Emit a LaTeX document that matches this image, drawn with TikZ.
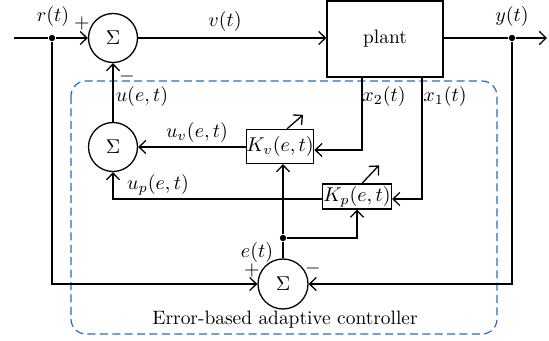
\documentclass[tikz,border=0pt]{standalone}
\usetikzlibrary{arrows.meta,calc}
\definecolor{dashblue}{RGB}{30,110,195}
\begin{document}
\begin{tikzpicture}[x=0.5pt,y=-0.5pt,
  line width=0.65pt,
  every node/.style={font=\fontsize{9.7}{11}\selectfont},
  arr/.style={-{Straight Barb[length=3.4pt,width=6.6pt]}},
  sumnode/.style={draw,circle,minimum size=24.5pt,inner sep=0pt},
  gainbox/.style={draw,rectangle,inner sep=0pt},
  dotnode/.style={circle,fill,inner sep=0pt,minimum size=3.2pt},
  smalldot/.style={circle,fill,inner sep=0pt,minimum size=1.8pt},
  lbl/.style={inner sep=0pt}
]
\useasboundingbox (0,0) rectangle (549,341);

% dashed controller box
\draw[dashblue,dash pattern=on 4pt off 2.2pt,rounded corners=7.5pt,line width=0.6pt]
  (71,81) rectangle (497,334);
\node[lbl] (ctrl) at (285,320) {Error-based adaptive controller};

% main nodes
\node[sumnode] (s1) at (113,38) {$\Sigma$};
\node[draw,rectangle,minimum width=58pt,minimum height=38pt,inner sep=0pt] (plant) at (385,39) {plant};
\node[sumnode] (s2) at (113,147) {$\Sigma$};
\node[gainbox,minimum width=33pt,minimum height=17pt] (kv) at (280,146.5) {$K_v(e,t)$};
\node[gainbox,minimum width=34.5pt,minimum height=12.5pt] (kp) at (357,196.5) {$K_p(e,t)$};
\node[sumnode,minimum size=25pt] (s3) at (283,284) {$\Sigma$};

% coordinates
\coordinate (in) at (14,38);
\node[dotnode] (rdot) at (52,38) {};
\node[dotnode] (ydot) at (512,38) {};
\coordinate (out) at (547,38);
\node[dotnode] (edot) at (283,238) {};
\node[smalldot] (cross) at (283,199) {};
\coordinate (x2c) at (362,150);
\coordinate (x1c) at (422,199);
\coordinate (upc) at (113,199);

% top path
\draw (in) -- (rdot);
\draw[arr] (rdot) -- (s1.west);
\draw[arr] (s1.east) -- (plant.west |- s1.east);
\draw (plant.east |- ydot) -- (ydot);
\draw[arr] (ydot) -- (out);

% feedback to error summer
\draw[arr] (rdot) |- (s3.west);
\draw[arr] (ydot) |- (s3.east);

% error distribution
\draw (s3.north) -- (edot);
\draw[arr] (edot) -- (edot |- kv.south);
\draw[arr] (edot) -| (kp.south);

% state feedback
\draw[arr] (plant.south -| x2c) -- (x2c) -- (x2c -| kv.east);
\draw[arr] (plant.south -| x1c) -- (x1c) -- (x1c -| kp.east);

% controller outputs
\draw[arr] (kv.west |- s2.east) -- (s2.east);
\draw[arr] (kp.west |- upc) -- (upc) -- (s2.south);
\draw[arr] (s2.north) -- (s1.south);

% adaptation arrows
\draw[arr] ($(kv.north)+(7,0)$) -- ++(16,-14);
\draw[arr] ($(kp.north)+(5,0)$) -- ++(17,-18);

% labels
\node[lbl] (lr) at (53,17) {$r(t)$};
\node[lbl] (lp1) at (82,24) {$+$};
\node[lbl] (lv) at (225,22) {$v(t)$};
\node[lbl] (ly) at (512,17) {$y(t)$};
\node[lbl] (lm1) at (127,77) {$-$};
\node[lbl] (lu) at (142,97) {$u(e,t)$};
\node[lbl] (lx2) at (384,97) {$x_2(t)$};
\node[lbl] (lx1) at (445,97) {$x_1(t)$};
\node[lbl] (luv) at (197,133) {$u_v(e,t)$};
\node[lbl] (lup) at (158,185) {$u_p(e,t)$};
\node[lbl] (le) at (257,252) {$e(t)$};
\node[lbl] (lp3) at (252,270) {$+$};
\node[lbl] (lm3) at (313,268) {$-$};
\end{tikzpicture}
\end{document}
